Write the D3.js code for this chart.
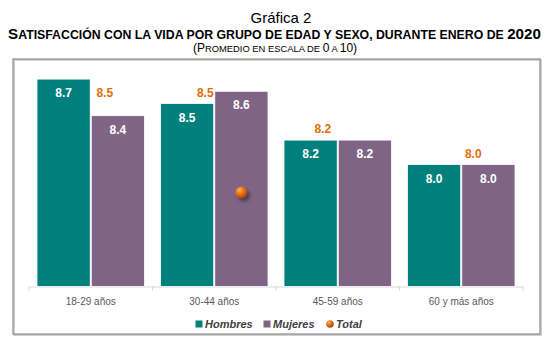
<!DOCTYPE html>
<html>
<head>
<meta charset="utf-8">
<script src="https://cdn.jsdelivr.net/npm/d3@7"></script>
<style>
  body { margin: 0; background: #fff; }
  text { font-family: "Liberation Sans", Arial, sans-serif; }
</style>
</head>
<body>
<div id="wrapper"></div>
<script>
// data
const groups = ["18-29 años", "30-44 años", "45-59 años", "60 y más años"];
const hombres = [8.7, 8.5, 8.2, 8.0];
const mujeres = [8.4, 8.6, 8.2, 8.0];
const total = [8.5, 8.5, 8.2, 8.0];
const series = ["Hombres", "Mujeres"];
// the only visible Total marker in the picture
const totalMarkerGroup = "30-44 años";
const totalMarkerValue = 7.77;

// label shifts (style only) for the Total labels, as seen in the picture
const totalLabelDx = [14, -9, -15, 12];

const colors = { Hombres: "#00807c", Mujeres: "#7f6485", Total: "#e46c0a" };

const dimensions = { width: 555, height: 354 };

const svg = d3.select("#wrapper").append("svg")
  .attr("width", dimensions.width)
  .attr("height", dimensions.height);

const defs = svg.append("defs");
const grad = defs.append("radialGradient").attr("id", "ball")
  .attr("cx", "35%").attr("cy", "30%").attr("r", "70%");
grad.append("stop").attr("offset", "0%").attr("stop-color", "#ffb060");
grad.append("stop").attr("offset", "55%").attr("stop-color", "#e86a0c");
grad.append("stop").attr("offset", "100%").attr("stop-color", "#a8470a");
const blur = defs.append("filter").attr("id", "shadow")
  .attr("x", "-50%").attr("y", "-50%").attr("width", "200%").attr("height", "200%");
blur.append("feGaussianBlur").attr("stdDeviation", 1.6);

// titles (small caps done by hand: big / small pieces)
svg.append("text").attr("x", 281).attr("y", 23).attr("text-anchor", "middle")
  .style("font-size", "15px").attr("fill", "#000").text("Gráfica 2");

function smallCaps(x, y, parts, big, small, bold) {
  const t = svg.append("text").attr("x", x).attr("y", y).attr("text-anchor", "middle")
    .style("font-weight", bold ? "bold" : "normal").attr("fill", "#000");
  parts.forEach(p => {
    t.append("tspan").style("font-size", (p[1] ? big : small) + "px").text(p[0]);
  });
  return t;
}
smallCaps(274.5, 39, [
  ["S", true],
  ["ATISFACCIÓN CON LA VIDA POR GRUPO DE EDAD Y SEXO, DURANTE ENERO DE ", false],
  ["2020", true]
], 15.2, 12.3, true);
smallCaps(275, 52, [
  ["(P", true], ["ROMEDIO EN ESCALA DE ", false], ["0", true], [" A ", false], ["10)", true]
], 12, 9.4, false);

// frame
svg.append("rect").attr("x", 14).attr("y", 60).attr("width", 527).attr("height", 275)
  .attr("fill", "none").attr("stroke", "#d0d0d0").attr("stroke-width", 2);
svg.append("rect").attr("x", 13).attr("y", 59).attr("width", 527).attr("height", 275)
  .attr("fill", "none").attr("stroke", "#8c8c8c").attr("stroke-width", 1.2);

// scales
const xScale = d3.scaleBand().domain(groups).range([29, 523]);
const xSub = d3.scaleBand().domain(series)
  .range([8, xScale.bandwidth() - 8]).paddingInner(0.02);
const yScale = d3.scaleLinear().domain([7, 8.8]).range([286.5, 66.9]);

// axis
const axis = svg.append("g").attr("transform", "translate(0,286.5)")
  .call(d3.axisBottom(xScale).tickSize(0).tickPadding(11));
axis.select(".domain").attr("stroke", "#d9d9d9");
axis.selectAll(".tick text").style("font-size", "10px").attr("fill", "#595959")
  .style("font-family", "Liberation Sans, Arial, sans-serif");
svg.append("g").selectAll("line")
  .data(groups.concat(["end"]))
  .join("line")
  .attr("x1", (d, i) => i < groups.length ? xScale(d) : xScale.range()[1])
  .attr("x2", (d, i) => i < groups.length ? xScale(d) : xScale.range()[1])
  .attr("y1", 286.5).attr("y2", 291)
  .attr("stroke", "#d9d9d9");

// bars
const rows = groups.map((g, i) => ({ group: g, Hombres: hombres[i], Mujeres: mujeres[i], Total: total[i], i }));
const barData = rows.flatMap(r => series.map(s => ({ group: r.group, key: s, value: r[s] })));

svg.append("g").selectAll("rect")
  .data(barData)
  .join("rect")
  .attr("x", d => xScale(d.group) + xSub(d.key))
  .attr("y", d => yScale(d.value))
  .attr("width", xSub.bandwidth())
  .attr("height", d => yScale(7) - yScale(d.value))
  .attr("fill", d => colors[d.key])
  .attr("stroke", "#ffffff").attr("stroke-width", 0.8);

svg.append("g").selectAll("text")
  .data(barData)
  .join("text")
  .attr("x", d => xScale(d.group) + xSub(d.key) + xSub.bandwidth() / 2)
  .attr("y", d => yScale(d.value) + 18)
  .attr("text-anchor", "middle")
  .style("font-size", "12px").style("font-weight", "bold")
  .attr("fill", "#ffffff")
  .text(d => d3.format(".1f")(d.value));

// total labels
svg.append("g").selectAll("text")
  .data(rows)
  .join("text")
  .attr("x", d => xScale(d.group) + xScale.bandwidth() / 2 + totalLabelDx[d.i])
  .attr("y", d => yScale(d.Total) - 7)
  .attr("text-anchor", "middle")
  .style("font-size", "12px").style("font-weight", "bold")
  .attr("fill", colors.Total)
  .text(d => d3.format(".1f")(d.Total));

// total marker
const mx = xScale(totalMarkerGroup) + xSub("Mujeres") + xSub.bandwidth() / 2;
const my = yScale(totalMarkerValue);
svg.append("circle").attr("cx", mx + 2.5).attr("cy", my + 3).attr("r", 6)
  .attr("fill", "#2e2440").attr("opacity", 0.6).attr("filter", "url(#shadow)");
svg.append("circle").attr("cx", mx).attr("cy", my).attr("r", 6)
  .attr("fill", "url(#ball)");

// legend
const legend = svg.append("g");
const legItems = [
  { key: "Hombres", x: 199, shape: "rect" },
  { key: "Mujeres", x: 267, shape: "rect" },
  { key: "Total", x: 330, shape: "circle" }
];
legItems.forEach(it => {
  if (it.shape === "rect") {
    legend.append("rect").attr("x", it.x - 3.5).attr("y", 320.5).attr("width", 7).attr("height", 7)
      .attr("fill", colors[it.key]);
  } else {
    legend.append("circle").attr("cx", it.x).attr("cy", 324).attr("r", 3.8)
      .attr("fill", "url(#ball)");
  }
  legend.append("text").attr("x", it.x + 6).attr("y", 328)
    .style("font-size", "11px").style("font-weight", "bold").style("font-style", "italic")
    .attr("fill", "#404040").text(it.key);
});
</script>
</body>
</html>
